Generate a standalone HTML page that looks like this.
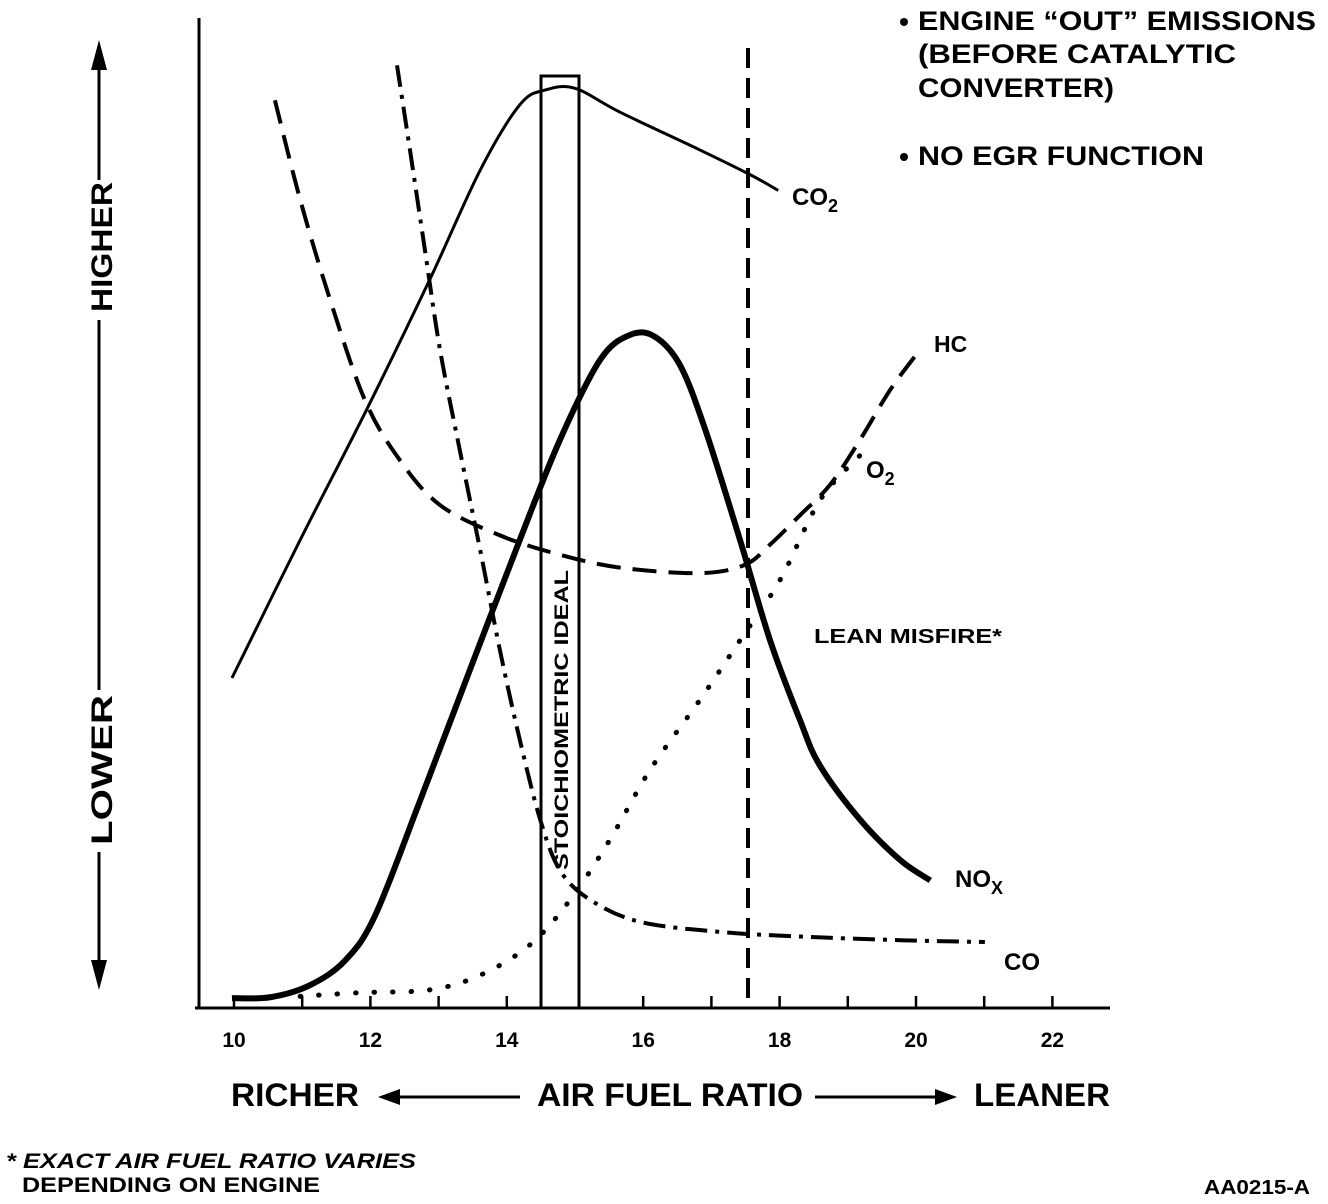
<!DOCTYPE html>
<html><head><meta charset="utf-8"><style>
html,body{margin:0;padding:0;background:#fff;}
svg{display:block;}
text{font-family:"Liberation Sans",Arial,sans-serif;font-weight:bold;fill:#000;}
</style></head><body>
<svg id="chart" width="1328" height="1204" viewBox="0 0 1328 1204" xmlns="http://www.w3.org/2000/svg">
<g id="axes">
<line x1="199" y1="18" x2="199" y2="1008" stroke="#000" stroke-width="3"/>
<line x1="195" y1="1008" x2="1110" y2="1008" stroke="#000" stroke-width="3"/>
</g>
<g id="ticks"></g>
<rect x="541" y="76" width="38" height="932" fill="#fff" stroke="#000" stroke-width="3"/>
<text x="0" y="0" transform="translate(568,870) rotate(-90)" font-size="19" textLength="300" lengthAdjust="spacingAndGlyphs">STOICHIOMETRIC IDEAL</text>
<g id="series"></g>
<line x1="748" y1="48" x2="748" y2="1000" stroke="#000" stroke-width="4" stroke-dasharray="20,10"/>
<!-- series labels -->
<text x="792" y="205" font-size="24">CO<tspan font-size="18" dy="7">2</tspan></text>
<text x="934" y="352" font-size="23">HC</text>
<text x="866" y="478" font-size="24">O<tspan font-size="18" dy="7">2</tspan></text>
<text x="814" y="643" font-size="20" textLength="188" lengthAdjust="spacingAndGlyphs">LEAN MISFIRE*</text>
<text x="955" y="887" font-size="24">NO<tspan font-size="18" dy="7">X</tspan></text>
<text x="1004" y="970" font-size="24">CO</text>
<!-- y axis label -->
<g>
<line x1="99" y1="70" x2="99" y2="180" stroke="#000" stroke-width="3"/>
<polygon points="99,40 91,70 107,70" fill="#000"/>
<text transform="translate(112,312) rotate(-90)" font-size="30" textLength="130" lengthAdjust="spacingAndGlyphs">HIGHER</text>
<line x1="99" y1="320" x2="99" y2="690" stroke="#000" stroke-width="3"/>
<text transform="translate(112,845) rotate(-90)" font-size="30" textLength="150" lengthAdjust="spacingAndGlyphs">LOWER</text>
<line x1="99" y1="852" x2="99" y2="960" stroke="#000" stroke-width="3"/>
<polygon points="99,990 91,960 107,960" fill="#000"/>
</g>
<!-- x axis title -->
<g>
<text x="231" y="1106" font-size="32" textLength="128" lengthAdjust="spacingAndGlyphs">RICHER</text>
<polygon points="378,1097 400,1089 400,1105" fill="#000"/>
<line x1="398" y1="1097" x2="520" y2="1097" stroke="#000" stroke-width="3"/>
<text x="537" y="1106" font-size="32" textLength="266" lengthAdjust="spacingAndGlyphs">AIR FUEL RATIO</text>
<line x1="815" y1="1097" x2="935" y2="1097" stroke="#000" stroke-width="3"/>
<polygon points="957,1097 935,1089 935,1105" fill="#000"/>
<text x="974" y="1106" font-size="32" textLength="136" lengthAdjust="spacingAndGlyphs">LEANER</text>
</g>
<!-- notes -->
<g>
<circle cx="904" cy="22" r="4" fill="#000"/>
<text x="918" y="30" font-size="27" textLength="398" lengthAdjust="spacingAndGlyphs">ENGINE “OUT” EMISSIONS</text>
<text x="918" y="63" font-size="27" textLength="318" lengthAdjust="spacingAndGlyphs">(BEFORE CATALYTIC</text>
<text x="918" y="97" font-size="27" textLength="196" lengthAdjust="spacingAndGlyphs">CONVERTER)</text>
<circle cx="904" cy="157" r="4" fill="#000"/>
<text x="918" y="165" font-size="27" textLength="286" lengthAdjust="spacingAndGlyphs">NO EGR FUNCTION</text>
</g>
<g>
<text x="6" y="1168" font-size="21" font-style="italic" textLength="410" lengthAdjust="spacingAndGlyphs">* EXACT AIR FUEL RATIO VARIES</text>
<text x="22" y="1192" font-size="21" textLength="298" lengthAdjust="spacingAndGlyphs">DEPENDING ON ENGINE</text>
</g>
<text x="1204" y="1194" font-size="20" textLength="106" lengthAdjust="spacingAndGlyphs">AA0215-A</text>
</svg>
<script>
const tickValues = [10,11,12,13,14,16,17,18,19,20,21,22];
const tickLabels = ["10","12","14","16","18","20","22"];
const co2X = [9.97,10.97,11.94,12.87,13.61,14.19,14.56,15.0,15.66,16.83,17.57,17.98];
const co2Y = [35.0,50.0,64.1,78.3,90.2,97.3,98.9,99.1,96.5,92.4,89.7,88.0];
const noxX = [9.97,10.53,11.11,11.63,12.07,12.73,13.46,14.19,14.78,15.37,15.81,16.17,16.54,16.91,17.42,17.86,18.30,18.59,19.18,19.77,20.21];
const noxY = [0.2,0.3,1.6,4.3,9.2,21.7,35.9,50.0,60.9,69.6,72.3,72.1,69.0,62.0,50.0,39.1,30.4,25.5,19.6,15.2,13.0];
const hcX = [10.60,10.97,11.41,11.92,12.43,13.02,13.90,14.78,15.66,16.83,17.49,17.86,18.30,18.74,19.18,19.62,20.03];
const hcY = [97.8,87.0,76.1,65.2,58.7,53.8,50.5,48.4,47.0,46.4,47.3,49.5,52.7,56.0,60.9,66.3,70.4];
const coX = [12.39,12.58,12.80,13.02,13.31,13.61,13.90,14.19,14.49,14.78,15.22,15.95,17.13,18.30,19.77,21.01];
const coY = [101.6,92.4,81.5,70.7,59.8,48.9,38.0,28.3,19.6,14.1,10.9,8.5,7.4,6.9,6.5,6.3];
const o2X = [10.97,11.85,12.87,13.61,14.34,14.93,15.51,16.10,16.83,17.42,18.01,18.59,19.18];
const o2Y = [0.4,0.8,1.1,2.7,6.0,10.9,17.4,25.0,32.6,39.1,45.7,54.3,59.2];

const NS = "http://www.w3.org/2000/svg";
function xs(v){ return 234 + (v - 10) * 68.2; }
function ys(v){ return 1000 - v * 9.2; }

const tg = document.getElementById('ticks');
tickValues.forEach(v => {
  const l = document.createElementNS(NS, 'line');
  l.setAttribute('x1', xs(v)); l.setAttribute('x2', xs(v));
  l.setAttribute('y1', 996); l.setAttribute('y2', 1008);
  l.setAttribute('stroke', '#000'); l.setAttribute('stroke-width', 2.5);
  
  
  tg.appendChild(l);
});
tickLabels.forEach(s => {
  const t = document.createElementNS(NS, 'text');
  t.setAttribute('x', xs(+s)); t.setAttribute('y', 1047);
  t.setAttribute('text-anchor', 'middle'); t.setAttribute('font-size', 21);
  t.textContent = s;
  
  
  tg.appendChild(t);
});

function pathFrom(X, Y){
  const p = X.map((x,i)=>[xs(x), ys(Y[i])]);
  let d = 'M' + p[0][0] + ',' + p[0][1];
  for (let i = 0; i < p.length - 1; i++) {
    const p0 = p[Math.max(0,i-1)], p1 = p[i], p2 = p[i+1], p3 = p[Math.min(p.length-1,i+2)];
    const c1x = p1[0] + (p2[0]-p0[0])/6, c1y = p1[1] + (p2[1]-p0[1])/6;
    const c2x = p2[0] - (p3[0]-p1[0])/6, c2y = p2[1] - (p3[1]-p1[1])/6;
    d += ' C' + c1x + ',' + c1y + ' ' + c2x + ',' + c2y + ' ' + p2[0] + ',' + p2[1];
  }
  return d;
}
const sg = document.getElementById('series');
function addSeries(X, Y, name, width, dash, cap){
  const el = document.createElementNS(NS, 'path');
  el.setAttribute('d', pathFrom(X, Y));
  el.setAttribute('fill', 'none');
  el.setAttribute('stroke', '#000');
  el.setAttribute('stroke-width', width);
  if (dash) el.setAttribute('stroke-dasharray', dash);
  if (cap) el.setAttribute('stroke-linecap', cap);
  
  
  sg.appendChild(el);
}
addSeries(co2X, co2Y, 'co2-line', 3, null);
addSeries(noxX, noxY, 'nox-line', 6, null);
addSeries(hcX, hcY, 'hc-line', 4, '24,12');
addSeries(coX, coY, 'co-line', 4, '22,8,4,8');
addSeries(o2X, o2Y, 'o2-line', 5, '0.5,18', 'round');
</script>
</body></html>
